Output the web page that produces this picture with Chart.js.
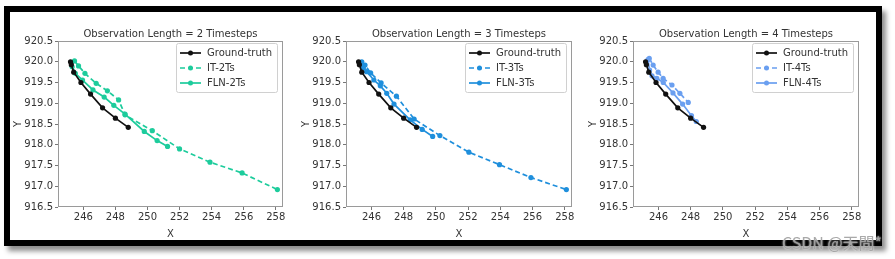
<!DOCTYPE html>
<html>
<head>
<meta charset="utf-8">
<script src="https://cdn.jsdelivr.net/npm/chart.js@4.4.0/dist/chart.umd.min.js"></script>
<style>
  html, body { margin: 0; padding: 0; background: #fff; }
  body { width: 895px; height: 259px; position: relative; overflow: hidden; font-family: "DejaVu Sans", sans-serif; }
  #frame { position: absolute; left: 4px; top: 6px; width: 878px; height: 240px; box-sizing: border-box;
           border: 6px solid #000; box-shadow: 4px 5px 5px rgba(0,0,0,0.45); background: #fff; }
  .box { position: absolute; top: 12px; height: 228px; }
  #mark { position: absolute; left: 782px; top: 230px; font: 16px "Noto Sans CJK SC", "DejaVu Sans", sans-serif;
          color: rgba(160,160,160,0.9); text-shadow: 0 0 2px #fff; white-space: nowrap; }
</style>
</head>
<body>
<div id="frame"></div>
<div class="box" style="left:12px;width:279px"><canvas id="c1"></canvas></div>
<div class="box" style="left:300px;width:280px"><canvas id="c2"></canvas></div>
<div class="box" style="left:587px;width:280px"><canvas id="c3"></canvas></div>
<div id="mark">CSDN @天問*</div>
<script>
// --- DATA ---
const xTicks = [246, 248, 250, 252, 254, 256, 258];
const yTicks = [916.5, 917.0, 917.5, 918.0, 918.5, 919.0, 919.5, 920.0, 920.5];
const titles = ["Observation Length = 2 Timesteps", "Observation Length = 3 Timesteps", "Observation Length = 4 Timesteps"];

const gtX = [245.2, 245.25, 245.4, 245.85, 246.45, 247.2, 248.0, 248.8];
const gtY = [920.0, 919.93, 919.75, 919.5, 919.22, 918.89, 918.64, 918.42];

const it2X = [245.45, 245.7, 246.1, 246.8, 247.5, 248.2, 248.6, 250.3, 252.0, 253.9, 255.9, 258.1];
const it2Y = [920.02, 919.9, 919.72, 919.48, 919.3, 919.08, 918.72, 918.34, 917.9, 917.58, 917.32, 916.92];
const fln2X = [245.3, 245.5, 245.95, 246.6, 247.3, 247.9, 248.6, 249.8, 250.6, 251.25];
const fln2Y = [919.88, 919.72, 919.56, 919.32, 919.15, 918.95, 918.74, 918.32, 918.1, 917.96];

const it3X = [245.4, 245.6, 245.95, 246.6, 247.55, 248.65, 250.25, 252.05, 253.95, 255.9, 258.1];
const it3Y = [920.0, 919.92, 919.73, 919.49, 919.17, 918.62, 918.22, 917.82, 917.52, 917.21, 916.92];
const fln3X = [245.35, 245.5, 245.7, 246.15, 246.55, 246.95, 247.4, 248.4, 249.15, 249.8];
const fln3Y = [919.95, 919.85, 919.76, 919.56, 919.42, 919.24, 918.98, 918.6, 918.37, 918.2];

const it4X = [245.43, 245.67, 245.98, 246.29, 246.84, 247.33, 247.85];
const it4Y = [920.08, 919.92, 919.75, 919.6, 919.44, 919.24, 919.02];
const fln4X = [245.35, 245.45, 245.6, 245.9, 246.3, 246.9, 247.5, 248.05, 248.35];
const fln4Y = [920.05, 919.8, 919.66, 919.6, 919.5, 919.25, 918.98, 918.7, 918.56];

const colors = ["#1dcc9c", "#1f8fdc", "#6a9ff0"];

function pts(xs, ys) { return xs.map((x, i) => ({ x: x, y: ys[i] })); }

// frame around plot + title + legend inside
const decor = {
    id: "decor",
    afterDraw(chart) {
        const ctx = chart.ctx, a = chart.chartArea;
        ctx.save();
        ctx.strokeStyle = "#9a9a9a";
        ctx.lineWidth = 1;
        ctx.strokeRect(a.left + 0.5, a.top + 0.5, a.right - a.left - 1, a.bottom - a.top - 1);

        ctx.fillStyle = "#333";
        ctx.font = "10px 'DejaVu Sans'";
        ctx.textAlign = "center";
        ctx.textBaseline = "alphabetic";
        ctx.fillText(chart.options.plugins.decor.title, (a.left + a.right) / 2, a.top - 4);

        // legend
        const bw = 101, bh = 49, bx = a.right - 6 - bw, by = a.top + 2;
        ctx.fillStyle = "#fff";
        ctx.strokeStyle = "#d0d0d0";
        ctx.beginPath();
        ctx.roundRect(bx + 0.5, by + 0.5, bw, bh, 2);
        ctx.fill(); ctx.stroke();
        chart.data.datasets.forEach((ds, i) => {
            const ry = by + 10 + i * 15;
            ctx.strokeStyle = ds.borderColor;
            ctx.lineWidth = 1.7;
            ctx.setLineDash(ds.borderDash || []);
            ctx.beginPath(); ctx.moveTo(bx + 4, ry); ctx.lineTo(bx + 25, ry); ctx.stroke();
            ctx.setLineDash([]);
            ctx.fillStyle = ds.borderColor;
            ctx.beginPath(); ctx.arc(bx + 14.5, ry, 2.5, 0, Math.PI * 2); ctx.fill();
            ctx.fillStyle = "#333";
            ctx.textAlign = "left";
            ctx.textBaseline = "middle";
            ctx.fillText(ds.label, bx + 31, ry + 0.5);
        });
        ctx.restore();
    }
};

function makeChart(id, idx, itX, itY, flnX, flnY, tag) {
    const col = colors[idx];
    const line = (label, data, c, dash) => ({
        label: label, data: data, showLine: true, borderColor: c, backgroundColor: c,
        borderWidth: 1.7, borderDash: dash, pointRadius: 2.6, pointHoverRadius: 2.6, pointBorderWidth: 0
    });
    new Chart(document.getElementById(id), {
        type: "scatter",
        data: {
            datasets: [
                line("Ground-truth", pts(gtX, gtY), "#111", []),
                line("IT-" + tag, pts(itX, itY), col, [5, 3]),
                line("FLN-" + tag, pts(flnX, flnY), col, [])
            ]
        },
        options: {
            responsive: true,
            maintainAspectRatio: false,
            animation: false,
            layout: { padding: { top: 29, right: 8, left: 0, bottom: 0 } },
            plugins: { legend: { display: false }, tooltip: { enabled: false }, decor: { title: titles[idx] } },
            scales: {
                x: {
                    type: "linear", min: 244.42, max: 258.45,
                    afterBuildTicks: s => { s.ticks = xTicks.map(v => ({ value: v })); },
                    afterFit: s => { s.height = 33; },
                    grid: { drawOnChartArea: false, drawTicks: true, tickLength: 3, color: "#777" },
                    border: { display: false },
                    ticks: { color: "#333", font: { family: "DejaVu Sans", size: 10 }, padding: 1, maxRotation: 0 },
                    title: { display: true, text: "X", color: "#333", font: { family: "DejaVu Sans", size: 10 }, padding: 0 }
                },
                y: {
                    type: "linear", min: 916.5, max: 920.5,
                    afterBuildTicks: s => { s.ticks = yTicks.map(v => ({ value: v })); },
                    afterFit: s => { s.width = 46; },
                    grid: { drawOnChartArea: false, drawTicks: true, tickLength: 3, color: "#777" },
                    border: { display: false },
                    ticks: { color: "#333", font: { family: "DejaVu Sans", size: 10 }, padding: 2, callback: v => v.toFixed(1) },
                    title: { display: true, text: "Y", color: "#333", font: { family: "DejaVu Sans", size: 10 }, padding: 0 }
                }
            }
        },
        plugins: [decor]
    });
}

makeChart("c1", 0, it2X, it2Y, fln2X, fln2Y, "2Ts");
makeChart("c2", 1, it3X, it3Y, fln3X, fln3Y, "3Ts");
makeChart("c3", 2, it4X, it4Y, fln4X, fln4Y, "4Ts");
</script>
</body>
</html>
